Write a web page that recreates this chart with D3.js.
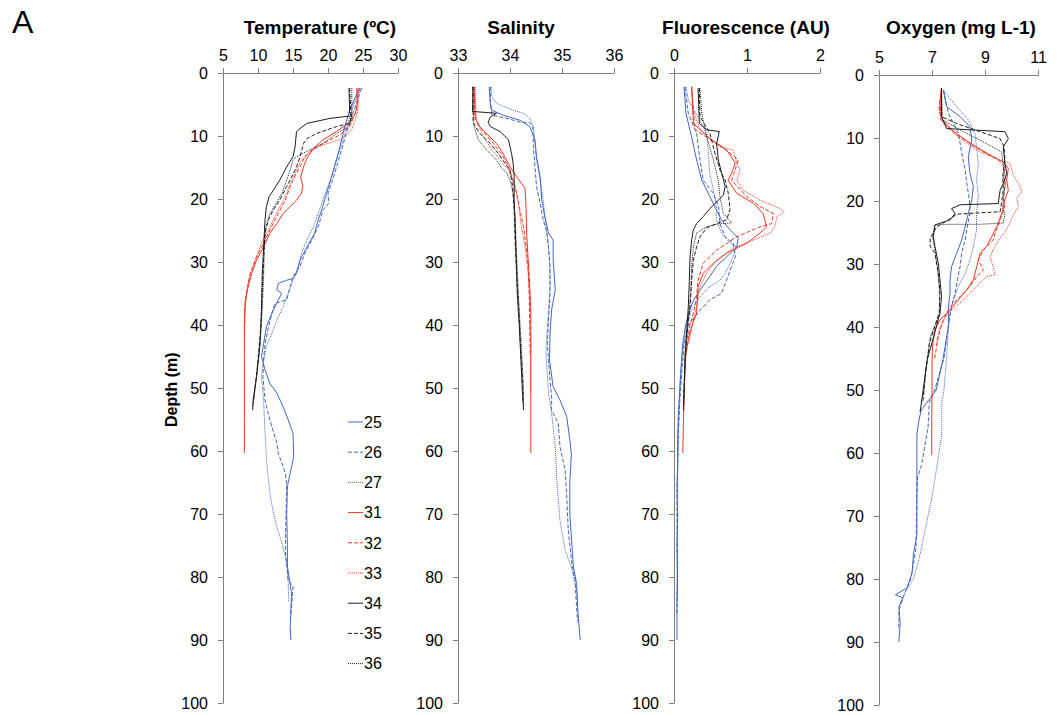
<!DOCTYPE html>
<html><head><meta charset="utf-8">
<script src="https://cdn.jsdelivr.net/npm/d3@7"></script>
<style>body{margin:0;background:#fff}svg{display:block}</style>
</head><body>
<svg id="c" width="1061" height="715"></svg>
<script>
// ---------- DATA ----------
const castIds = ["25","26","27","31","32","33","34","35","36"];
const panelTitles = ["Temperature (ºC)","Salinity","Fluorescence (AU)","Oxygen (mg L-1)"];
const depthTicks = [0,10,20,30,40,50,60,70,80,90,100];
const tempTicks = [5,10,15,20,25,30];
const salTicks = [33,34,35,36];
const fluTicks = [0,1,2];
const oxyTicks = [5,7,9,11];

// [depth (m), value]
const temp25 = [[2.4,24.5],[5.9,23.1],[8.5,22.4],[11.7,21.7],[13.8,21.2],[16.5,20.5],[19.1,19.8],[21.7,19.1],[23.3,18.6],[25.4,18.1],[27.6,17.0],[29.7,16.0],[31.8,15.5],[32.6,15.0],[32.9,14.1],[33.4,12.9],[34.4,12.7],[35.0,13.4],[36.0,12.9],[38.1,12.0],[40.3,11.2],[43,10.8],[45,10.5],[47.1,11.0],[49.3,11.7],[50.8,12.7],[53,13.6],[55,14.3],[57.2,15.0],[60.9,15.1],[62.5,14.8],[63.5,14.6],[65.6,14.2],[70,14.1],[75,14.2],[78.3,14.2],[80.5,14.5],[82.6,14.8],[85,14.7],[88,14.6],[90,14.7]];
const temp26 = [[2.4,24.8],[5.3,23.9],[8.5,22.9],[11.2,22.2],[13.8,21.5],[16.5,20.8],[19.1,20.0],[20.7,20.1],[21.7,19.3],[24.4,18.6],[26.5,17.7],[28.6,16.7],[30.7,16.0],[32.3,15.0],[33.9,14.6],[36.0,14.1],[36.6,12.4],[38.1,12.0],[40.3,11.5],[43,11.0],[45.6,10.8],[48.2,10.7],[51.9,11.0],[55.1,11.7],[58.8,12.7],[60.4,12.9],[62.5,13.6],[63.5,13.9],[65.1,14.1],[70.4,14.0],[75.7,13.9],[80.5,14.3],[81.5,15.0],[84.7,14.8],[86,14.7]];
const temp27 = [[2.4,24.6],[5.3,23.6],[8.5,22.7],[11.2,22.0],[13.8,21.2],[16.5,20.5],[19.1,19.6],[22.3,18.6],[24.4,17.9],[26.5,17.0],[28.6,16.2],[30.7,15.8],[32.9,15.0],[35,14.3],[37.1,13.6],[39.2,12.7],[41.3,12.0],[43.4,11.2],[45.6,10.8],[48.2,10.5],[51.9,10.8],[57.2,11.0],[62.5,11.3],[66.7,11.7],[69.9,12.2],[72,12.7],[74.6,13.4],[76.8,13.9],[78.3,14.2],[80.5,14.3],[84,14.4]];
const temp31 = [[2.4,24.1],[4.8,24.2],[6.4,23.9],[8.0,22.9],[9.3,21.2],[10.6,19.3],[12.0,17.9],[13.5,17.0],[14.9,16.5],[16.5,16.1],[18,16.4],[19.1,16.2],[20.2,15.5],[21.2,14.6],[22.3,13.6],[23.9,12.7],[25.4,11.7],[27.6,10.8],[29.7,9.8],[31.8,9.1],[33.9,8.6],[36,8.2],[38.7,8.1],[40.3,8.05],[45,8.05],[50,8.05],[55,8.05],[60.3,8.05]];
const temp32 = [[2.4,24.3],[5.9,24.1],[8.5,23.1],[9.8,21.7],[10.9,19.8],[12.0,17.9],[13.3,16.7],[14.9,16.0],[15.9,15.5],[18,14.6],[20.2,13.9],[22.3,12.9],[24.9,11.7],[27,10.8],[29.2,9.8],[31.8,8.9],[34.4,8.4],[37.1,8.1],[39.2,8.1],[41,8.05]];
const temp33 = [[2.4,24.5],[6.4,24.2],[9.0,23.4],[10.6,21.7],[11.4,19.3],[12.5,17.4],[13.8,16.2],[15.4,15.5],[17.5,14.6],[19.1,14.1],[20.7,13.4],[22.8,12.4],[24.9,11.5],[27,10.5],[29.7,9.6],[32.3,8.8],[35,8.4],[38.1,8.1],[39.7,8.1],[42,8.05]];
const temp34 = [[2.4,23.0],[6.4,23.1],[6.8,23.4],[7.2,20.3],[8.0,17.0],[8.8,16.0],[9.3,15.5],[11.7,15.3],[13.3,15.0],[14.9,14.1],[17,13.1],[18.6,12.2],[19.6,11.6],[21.2,11.2],[23.3,11.0],[27.6,10.8],[32.3,10.6],[37.6,10.5],[42.9,10.3],[48.2,9.8],[51.9,9.3],[53.5,9.24]];
const temp35 = [[2.4,23.1],[6.9,23.3],[8.0,23.1],[8.5,21.2],[9.6,18.4],[10.4,17.0],[11.2,16.5],[13.3,16.0],[14.9,15.5],[16.5,14.8],[18,14.1],[20.2,13.1],[21.7,12.2],[23.3,11.5],[25.4,11.0],[29.7,10.8],[35,10.6],[40.3,10.4],[45.6,10.0],[49.8,9.6],[52.4,9.3]];
const temp36 = [[2.4,23.4],[7.5,23.4],[8.5,22.9],[9.6,21.2],[11.2,19.3],[12.2,17.4],[13.3,15.5],[13.8,15.0],[15.4,14.6],[17,14.1],[19.1,13.4],[20.7,12.6],[22.3,11.7],[24.4,11.1],[27.6,10.9],[32.3,10.8],[37.6,10.6],[42.9,10.3],[47.1,9.9],[50.8,9.5],[52.9,9.3]];

const sal25 = [[2.2,33.60],[4.8,33.62],[5.9,33.65],[6.7,33.87],[7.5,34.19],[8.5,34.38],[10.6,34.48],[13.3,34.51],[16.5,34.58],[20.2,34.61],[22.8,34.67],[25.4,34.74],[26.5,34.83],[29.7,34.83],[34.4,34.87],[37.6,34.80],[41.3,34.77],[45.6,34.76],[49.8,34.83],[51.9,34.96],[54.5,35.09],[58.2,35.15],[60.5,35.18],[65,35.15],[70,35.15],[76,35.20],[78.4,35.22],[81,35.28],[86,35.31],[90,35.35]];
const sal26 = [[2.2,33.62],[5.3,33.63],[6.7,33.65],[7.2,33.94],[7.8,34.19],[7.9,34.38],[8.5,34.44],[11.7,34.45],[14.9,34.48],[18,34.51],[20.7,34.58],[23.3,34.64],[25.4,34.71],[27.6,34.74],[30.7,34.77],[35,34.77],[39.2,34.74],[42.9,34.72],[45.6,34.74],[48.7,34.77],[51.4,34.80],[53.5,34.80],[55.6,34.93],[59.3,34.96],[63,35.06],[67,35.09],[72.5,35.12],[78,35.19],[80.5,35.25],[84.7,35.28],[87,35.30]];
const sal27 = [[2.2,33.64],[3.8,33.65],[4.8,33.74],[5.3,33.87],[5.9,34.06],[6.4,34.26],[7.2,34.38],[8.5,34.45],[11.2,34.48],[13.8,34.51],[17,34.58],[20.2,34.64],[22.8,34.67],[25.9,34.72],[29.7,34.76],[33.9,34.77],[37.6,34.74],[41.3,34.71],[44.5,34.69],[48.2,34.72],[50.8,34.74],[54,34.80],[59.3,34.87],[64.6,34.90],[71,34.96],[75.7,35.06],[78.7,35.19],[82,35.28],[84,35.30]];
const sal31 = [[2.2,33.31],[6.9,33.33],[8.3,33.39],[9.6,33.55],[11.2,33.74],[12.8,33.87],[14.9,34.0],[16.5,34.13],[17.5,34.22],[18.3,34.29],[21.7,34.31],[25.4,34.32],[29.7,34.35],[33.9,34.38],[37.6,34.40],[45.6,34.40],[52,34.40],[60.3,34.40]];
const sal32 = [[2.2,33.31],[7.2,33.33],[9.0,33.46],[10.9,33.65],[13.0,33.85],[14.9,33.97],[17,34.06],[19.1,34.13],[21.7,34.19],[24.4,34.26],[27.6,34.31],[30.7,34.35],[35,34.37],[40.3,34.38],[45,34.39]];
const sal33 = [[2.2,33.33],[7.5,33.35],[10.1,33.49],[12.2,33.65],[13.8,33.81],[15.4,33.97],[18,34.10],[20.7,34.16],[24.4,34.22],[27.6,34.29],[31.9,34.35],[36,34.38],[42.9,34.40],[50.8,34.40]];
const sal34 = [[2.2,33.29],[6.1,33.28],[6.4,33.74],[7.0,33.62],[7.8,33.58],[8.5,33.62],[9.3,33.81],[10.6,33.97],[12.8,34.03],[14.3,34.06],[16.5,34.08],[20.2,34.08],[24.4,34.10],[29.7,34.12],[35,34.14],[40.3,34.18],[45.6,34.21],[50.8,34.24],[53.5,34.26]];
const sal35 = [[2.2,33.29],[7.9,33.29],[9.6,33.42],[11.2,33.62],[12.8,33.78],[14.3,33.90],[15.4,34.0],[18,34.05],[21.7,34.08],[27,34.10],[32.3,34.13],[37.6,34.17],[43,34.20],[48.2,34.24],[52.4,34.26]];
const sal36 = [[2.2,33.28],[8.5,33.31],[10.6,33.39],[12.2,33.55],[13.8,33.74],[15.1,33.84],[15.9,33.94],[17,34.0],[19.1,34.06],[22.8,34.10],[27.6,34.12],[32.8,34.15],[38.1,34.18],[43.4,34.22],[48.7,34.25],[52.9,34.26]];

const flu25 = [[2.2,0.137],[6.4,0.164],[10.1,0.24],[13.8,0.31],[17,0.38],[19.6,0.49],[21.7,0.58],[23.3,0.65],[24.9,0.77],[26.2,0.88],[27.6,0.86],[29.2,0.72],[30.7,0.58],[32.3,0.49],[34.4,0.36],[36,0.27],[38.1,0.20],[40,0.16],[43,0.12],[46,0.10],[50,0.08],[54,0.06],[58,0.05],[62,0.05],[66,0.04],[70,0.05],[75,0.04],[80,0.05],[85,0.04],[90,0.04]];
const flu26 = [[2.2,0.15],[6.4,0.196],[9.6,0.31],[13.8,0.356],[17,0.40],[19.1,0.54],[21.2,0.61],[23.9,0.63],[26,0.70],[27,0.81],[29.2,0.84],[31.3,0.77],[32.9,0.72],[35,0.65],[36,0.49],[37.6,0.36],[40,0.20],[43,0.14],[47,0.11],[52,0.08],[57,0.06],[62,0.05],[70,0.04],[78,0.05],[86,0.04]];
const flu27 = [[2.2,0.164],[4.3,0.196],[7.5,0.356],[9.6,0.447],[12.7,0.47],[15.9,0.49],[18.6,0.54],[21.2,0.58],[23.3,0.58],[25.4,0.65],[27,0.77],[27.6,0.86],[29.7,0.79],[31.8,0.70],[32.9,0.63],[33.9,0.49],[35.5,0.36],[37.6,0.24],[40,0.17],[44,0.12],[48,0.09],[53,0.07],[58,0.06],[64,0.05],[72,0.05],[80,0.04],[84,0.04]];
const flu31 = [[2.2,0.242],[8.0,0.265],[10.4,0.49],[12.2,0.72],[14.3,0.84],[15.9,0.79],[17,0.74],[19.1,0.86],[20.7,1.09],[22.3,1.22],[24.4,1.27],[25.4,1.18],[27,1.0],[28.6,0.72],[30.2,0.54],[31.8,0.40],[33.9,0.33],[36,0.32],[38.1,0.31],[40,0.25],[42,0.20],[45,0.16],[50,0.14],[55,0.13],[60.3,0.12]];
const flu32 = [[2.2,0.24],[9.0,0.288],[11.2,0.584],[12.7,0.767],[13.8,0.88],[15.4,0.836],[17,0.79],[19.6,0.996],[21.2,1.18],[22.3,1.36],[23.9,1.34],[24.4,1.18],[26,0.86],[28.1,0.584],[30.2,0.40],[32.9,0.33],[35.5,0.31],[37.5,0.28],[40,0.22],[42,0.19]];
const flu33 = [[2.2,0.24],[5.9,0.265],[9.0,0.356],[11.7,0.63],[12.2,0.81],[14.3,0.86],[15.4,0.904],[17,0.86],[18.6,0.95],[20.2,1.18],[21.5,1.45],[22,1.51],[22.8,1.41],[24.4,1.38],[25.4,1.32],[26.5,1.09],[27.8,0.81],[29.7,0.584],[31.8,0.447],[33.9,0.356],[37,0.31],[40,0.25],[43,0.20]];
const flu34 = [[2.4,0.33],[8,0.347],[9,0.447],[9.3,0.62],[11.2,0.584],[13.8,0.607],[15.9,0.653],[18,0.70],[19.4,0.676],[20.2,0.607],[21.5,0.493],[22.8,0.40],[23.9,0.31],[24.9,0.265],[26.5,0.242],[29.2,0.22],[32.9,0.21],[37.1,0.196],[40,0.18],[45,0.15],[50,0.14],[53.5,0.13]];
const flu35 = [[2.4,0.347],[6.9,0.356],[9.6,0.493],[12.7,0.56],[15.4,0.63],[17,0.70],[19.1,0.744],[21.7,0.767],[23.3,0.72],[23.9,0.584],[24.6,0.447],[26,0.356],[27.6,0.31],[29.7,0.265],[32.9,0.242],[37.1,0.22],[41,0.18],[46,0.15],[52.4,0.13]];
const flu36 = [[2.4,0.356],[6.4,0.38],[10.1,0.447],[13.8,0.54],[17,0.607],[19.6,0.63],[22.3,0.676],[23.8,0.79],[23.9,0.63],[24.4,0.447],[25.4,0.31],[27.6,0.265],[30.7,0.242],[35,0.228],[40,0.19],[45,0.16],[50,0.14],[52.9,0.13]];

const oxy25 = [[2.4,7.43],[5.0,7.55],[6.6,8.06],[8.2,8.43],[10.3,8.50],[13,8.37],[15.6,8.43],[17.7,8.56],[19.8,8.50],[22,8.37],[24.1,8.25],[26.2,8.12],[28.3,7.93],[30.4,7.74],[32.5,7.68],[34.7,7.68],[36.8,7.62],[39.9,7.62],[45.2,7.41],[50,7.16],[53.2,6.59],[55,6.50],[57,6.43],[65,6.43],[73,6.43],[76,6.30],[79,6.25],[81.4,6.06],[82.5,5.62],[83,5.90],[84.4,5.75],[87,5.80],[90,5.75]];
const oxy26 = [[2.4,7.43],[6.1,7.62],[9.3,8.0],[12.4,8.12],[15.1,8.25],[17.7,8.33],[19.8,8.41],[22,8.43],[24.1,8.33],[26.2,8.25],[28.3,8.12],[30.4,8.06],[32.5,7.96],[34.7,7.87],[36.8,7.74],[38.9,7.65],[45,7.45],[50,7.10],[52,6.90],[56,6.85],[60,6.68],[62,6.60],[64,6.45],[68,6.42],[75,6.40],[80,6.20],[83,5.90],[85,5.75],[88,5.75]];
const oxy27 = [[2.4,7.43],[5.0,7.93],[7.1,8.37],[9.3,8.62],[11.4,8.68],[14,8.75],[16.7,8.68],[19.3,8.75],[22,8.68],[24.6,8.68],[27.2,8.56],[29.4,8.43],[31.5,8.25],[33.6,7.99],[35.7,7.80],[37.8,7.68],[39.9,7.62],[45,7.55],[50,7.45],[52,7.37],[57,7.37],[62,7.19],[67,7.0],[73,6.70],[77,6.50],[80,6.30],[82,6.0],[84,5.80]];
const oxy31 = [[2.1,7.36],[4.5,7.30],[6.9,7.36],[8.7,7.74],[10.8,8.43],[12.7,9.19],[13.8,9.69],[14.8,9.88],[16.7,9.82],[18.3,9.88],[19.8,9.75],[22,9.63],[24.1,9.44],[25.7,9.25],[27.2,9.06],[28.3,8.81],[30.4,8.69],[32.5,8.56],[34.1,8.31],[35.7,7.99],[37.3,7.68],[38.9,7.30],[40.5,7.10],[43,7.02],[46,7.0],[50,7.0],[55,6.99],[60.3,6.99]];
const oxy32 = [[2.1,7.36],[5.0,7.27],[7.1,7.33],[9.5,7.93],[11.9,8.81],[13.5,9.50],[14.6,9.75],[16.1,9.69],[17.7,9.75],[19.3,9.69],[20.9,9.75],[23,9.57],[25.1,9.38],[26.2,9.31],[27.8,8.94],[29.4,8.75],[31,8.94],[32,8.69],[33.6,8.43],[35.2,8.05],[36.8,7.68],[38.9,7.42],[41.5,7.24],[45,7.10]];
const oxy33 = [[2.1,7.36],[5.6,7.27],[7.7,7.42],[10.1,8.05],[12.2,8.81],[13.5,9.57],[14,9.94],[15.9,10.07],[17.7,10.32],[18.5,10.39],[19.6,10.2],[20.9,10.26],[22.2,10.07],[23.5,9.94],[24.9,9.75],[25.9,9.57],[27.2,9.38],[28.8,9.19],[30.4,9.31],[31.7,9.38],[32,9.06],[33,8.81],[34.7,8.43],[36.2,8.05],[37.8,7.62],[40,7.30],[43,7.15]];
const oxy34 = [[2.1,7.36],[6.6,7.36],[8.5,7.55],[9.0,9.75],[10.1,9.88],[11.4,9.69],[14,9.75],[15.6,9.82],[17.2,9.69],[18.3,9.57],[20.4,9.5],[20.5,8.81],[20.6,8.06],[21.2,7.74],[22,7.87],[23,7.68],[23.8,7.11],[25.7,7.05],[27.2,7.11],[29.9,7.24],[32.5,7.30],[35.2,7.36],[37.8,7.30],[41,7.10],[45.2,6.82],[50.5,6.65],[53.5,6.55]];
const oxy35 = [[2.1,7.36],[6.6,7.36],[7.7,7.93],[9.0,8.81],[10.1,9.57],[11.4,9.72],[13.5,9.75],[16.1,9.67],[18.3,9.69],[20.1,9.63],[21.7,9.57],[21.9,8.69],[22.1,7.93],[23,7.62],[24.1,7.18],[25.9,6.93],[27.2,6.93],[28.3,7.11],[31.5,7.24],[34.7,7.30],[37.8,7.27],[42.6,6.90],[47.9,6.74],[52.1,6.65]];
const oxy36 = [[2.1,7.36],[7.1,7.39],[8.7,8.05],[10.9,9.06],[12.2,9.63],[14.6,9.69],[16.7,9.79],[18.8,9.72],[20.9,9.67],[22,9.75],[23.5,9.69],[23.7,8.81],[23.7,7.55],[23.8,7.11],[25.7,7.02],[27.8,7.11],[30.4,7.20],[33.6,7.27],[37.8,7.30],[41.5,6.94],[46.8,6.77],[51,6.68]];

const tempSeries = [temp25,temp26,temp27,temp31,temp32,temp33,temp34,temp35,temp36];
const salSeries  = [sal25,sal26,sal27,sal31,sal32,sal33,sal34,sal35,sal36];
const fluSeries  = [flu25,flu26,flu27,flu31,flu32,flu33,flu34,flu35,flu36];
const oxySeries  = [oxy25,oxy26,oxy27,oxy31,oxy32,oxy33,oxy34,oxy35,oxy36];

// ---------- STYLE / LAYOUT ----------
const castColor = ["#4266bf","#4266bf","#4266bf","#ee3524","#ee3524","#ee3524","#1e1e1e","#1e1e1e","#1e1e1e"];
const castDash  = [null,"4,2","1,1",null,"4,2","1,1",null,"4,2","1,1"];
const font = "Arial, 'Liberation Sans', Helvetica, sans-serif";

const panels = [
  {title: panelTitles[0], ticks: tempTicks, domain:[5,30],  x0:223, x1:398,  y0:73, titleX:320, series: tempSeries},
  {title: panelTitles[1], ticks: salTicks,  domain:[33,36], x0:458, x1:614,  y0:73, titleX:521, series: salSeries},
  {title: panelTitles[2], ticks: fluTicks,  domain:[0,2],   x0:674, x1:820,  y0:73, titleX:746, series: fluSeries},
  {title: panelTitles[3], ticks: oxyTicks,  domain:[5,11],  x0:879, x1:1038, y0:75, titleX:961, series: oxySeries}
];

const svg = d3.select("#c");
svg.append("rect").attr("width",1061).attr("height",715).attr("fill","#fff");

svg.append("text").attr("x",12).attr("y",33).attr("font-family",font)
  .attr("font-size",32).attr("fill","#000").text("A");

panels.forEach(p => {
  const x = d3.scaleLinear().domain(p.domain).range([p.x0, p.x1]);
  const y = d3.scaleLinear().domain([0,100]).range([p.y0, p.y0 + 630]);
  const g = svg.append("g");

  const xa = g.append("g").attr("transform",`translate(0,${p.y0})`)
    .call(d3.axisTop(x).tickValues(p.ticks).tickSize(5).tickSizeOuter(0).tickPadding(7).tickFormat(d3.format("d")));
  const ya = g.append("g").attr("transform",`translate(${p.x0},0)`)
    .call(d3.axisLeft(y).tickValues(depthTicks).tickSize(5).tickSizeOuter(0).tickPadding(10).tickFormat(d3.format("d")));
  [xa,ya].forEach(a => {
    a.selectAll("path,line").attr("stroke","#808080").attr("stroke-width",1);
    a.selectAll("text").attr("font-family",font).attr("font-size",16).attr("fill","#000");
  });

  g.append("text").attr("x",p.titleX).attr("y",34).attr("text-anchor","middle")
    .attr("font-family",font).attr("font-size",19).attr("font-weight","bold").attr("fill","#000")
    .text(p.title);

  const line = d3.line().x(d => x(d[1])).y(d => y(d[0]));
  p.series.forEach((s,i) => {
    g.append("path").attr("d", line(s)).attr("fill","none")
      .attr("stroke", castColor[i]).attr("stroke-width",1)
      .attr("stroke-dasharray", castDash[i]);
  });
});

// depth label
svg.append("text").attr("transform","translate(177,427) rotate(-90)")
  .attr("font-family",font).attr("font-size",16).attr("font-weight","bold").attr("fill","#000")
  .text("Depth (m)");

// legend
const leg = svg.append("g");
castIds.forEach((c,i) => {
  const yy = 422 + i*30.2;
  leg.append("line").attr("x1",348).attr("x2",363).attr("y1",yy).attr("y2",yy)
    .attr("stroke",castColor[i]).attr("stroke-width",1).attr("stroke-dasharray",castDash[i]);
  leg.append("text").attr("x",364).attr("y",yy).attr("dy","0.36em")
    .attr("font-family",font).attr("font-size",16).attr("fill","#000").text(c);
});
</script>
</body></html>
